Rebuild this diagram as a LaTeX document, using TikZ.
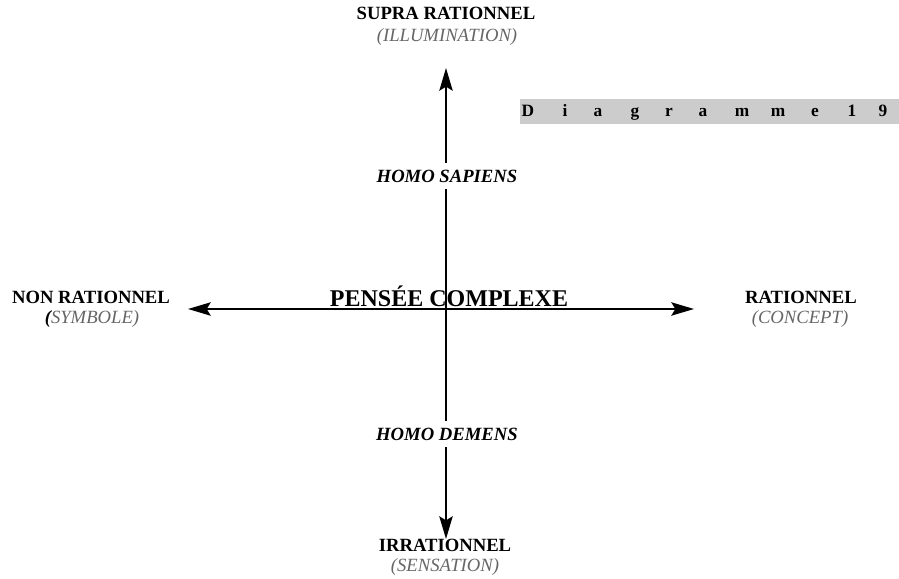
\documentclass[tikz,border=0pt]{standalone}
\usepackage{fontspec}
\setmainfont{Liberation Serif}
\usetikzlibrary{arrows.meta}
\definecolor{lbl}{gray}{0.40}
\definecolor{boxgray}{gray}{0.80}
\begin{document}
\begin{tikzpicture}[x=0.75pt,y=-0.75pt,
  head/.style={font=\fontsize{14}{16}\selectfont\bfseries,anchor=base,inner sep=0pt},
  sub/.style={font=\fontsize{14}{16}\selectfont\itshape,text=lbl,anchor=base,inner sep=0pt},
  homo/.style={font=\fontsize{14}{16}\selectfont\bfseries\itshape,anchor=base,fill=white,inner xsep=2pt,inner ysep=5pt},
  axis/.style={line width=1.5pt,{Stealth[length=17pt,width=10pt,inset=3pt]}-{Stealth[length=17pt,width=10pt,inset=3pt]}},
  dletter/.style={font=\fontsize{13}{15}\selectfont\bfseries,anchor=base,inner sep=0pt}]
\useasboundingbox (0,0) rectangle (899,578);
% gray title box
\fill[boxgray] (520,99) rectangle (899,124);
\foreach \ch/\xx [count=\i] in {D/528,i/565,a/598,g/635,r/669,a/703,m/742,m/778,e/815,1/852,9/883}
  \node[dletter] (d\i) at (\xx,116) {\ch};
% axes
\coordinate (vtop) at (446,68);
\coordinate (vbot) at (446,539);
\coordinate (hleft) at (188,309);
\coordinate (hright) at (694,309);
\node[font=\fontsize{18}{20}\selectfont\bfseries,anchor=base,inner sep=0pt] (pc) at (449,306) {PENSÉE COMPLEXE};
\draw[axis] (hleft) -- (hright);
\draw[axis] (vtop) -- (vbot);
\node[homo] (hs) at (447,182) {HOMO SAPIENS};
\node[homo] (hd) at (447,440) {HOMO DEMENS};
% poles
\node[head] (supra) at (446,19) {SUPRA RATIONNEL};
\node[sub] (illu) at (447,41) {(ILLUMINATION)};
\node[head] (nonr) at (91,303) {NON RATIONNEL};
\node[sub] (symb) at (92,323) {{\bfseries\color{black}(}SYMBOLE)};
\node[head] (rat) at (801,303) {RATIONNEL};
\node[sub] (conc) at (800,323) {(CONCEPT)};
\node[head] (irr) at (445,551) {IRRATIONNEL};
\node[sub] (sens) at (445,571) {(SENSATION)};
\end{tikzpicture}
\end{document}
